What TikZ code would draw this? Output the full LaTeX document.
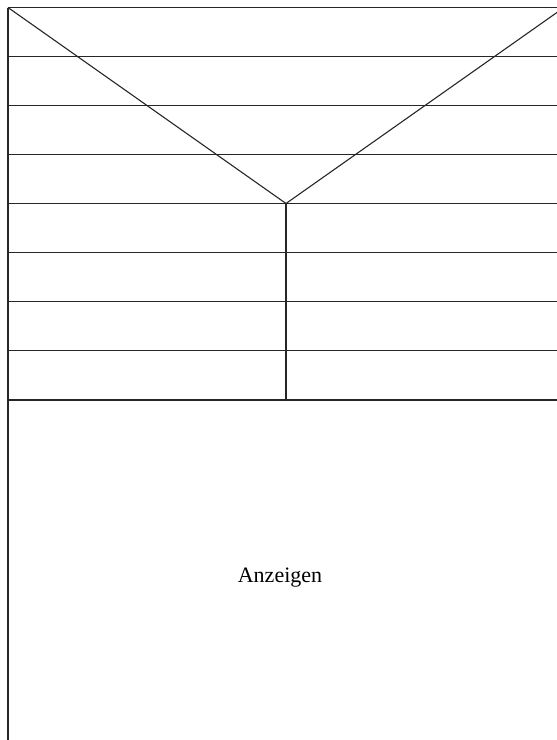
\documentclass[tikz,border=0pt]{standalone}
\usepackage{fontspec}
\setmainfont{Liberation Serif}
\usetikzlibrary{positioning}

\begin{document}
\begin{tikzpicture}[
  x=1pt, y=-1pt,
  rule/.style={draw=black!85, line width=1.1pt},
  bar/.style={draw=black!85, line width=1.9pt},
  label/.style={font=\fontsize{22}{26}\selectfont, inner sep=0pt}
]
  \useasboundingbox (0,0) rectangle (557,740);
  \clip (0,0) rectangle (557,740);

  % corners and joints of the page frame
  \coordinate (tl) at (8,7.5);
  \coordinate (tr) at (564,7.5);
  \coordinate (v) at (286,203.5);
  \coordinate (m) at (286,400);
  \coordinate (bl) at (8,740);

  % rows of the header
  \foreach \r in {0,...,7}
    \draw[rule] (8,{7.5+49*\r}) -- (564,{7.5+49*\r});
  \draw[bar] (8,400) -- (564,400);

  \draw[rule] (tl) -- (bl);
  \draw[rule] (tl) -- (v);
  \draw[rule] (tr) -- (v);
  \draw[rule] (v) -- (m);

  \node[label] (ads) at (280,578) {Anzeigen};
\end{tikzpicture}
\end{document}
